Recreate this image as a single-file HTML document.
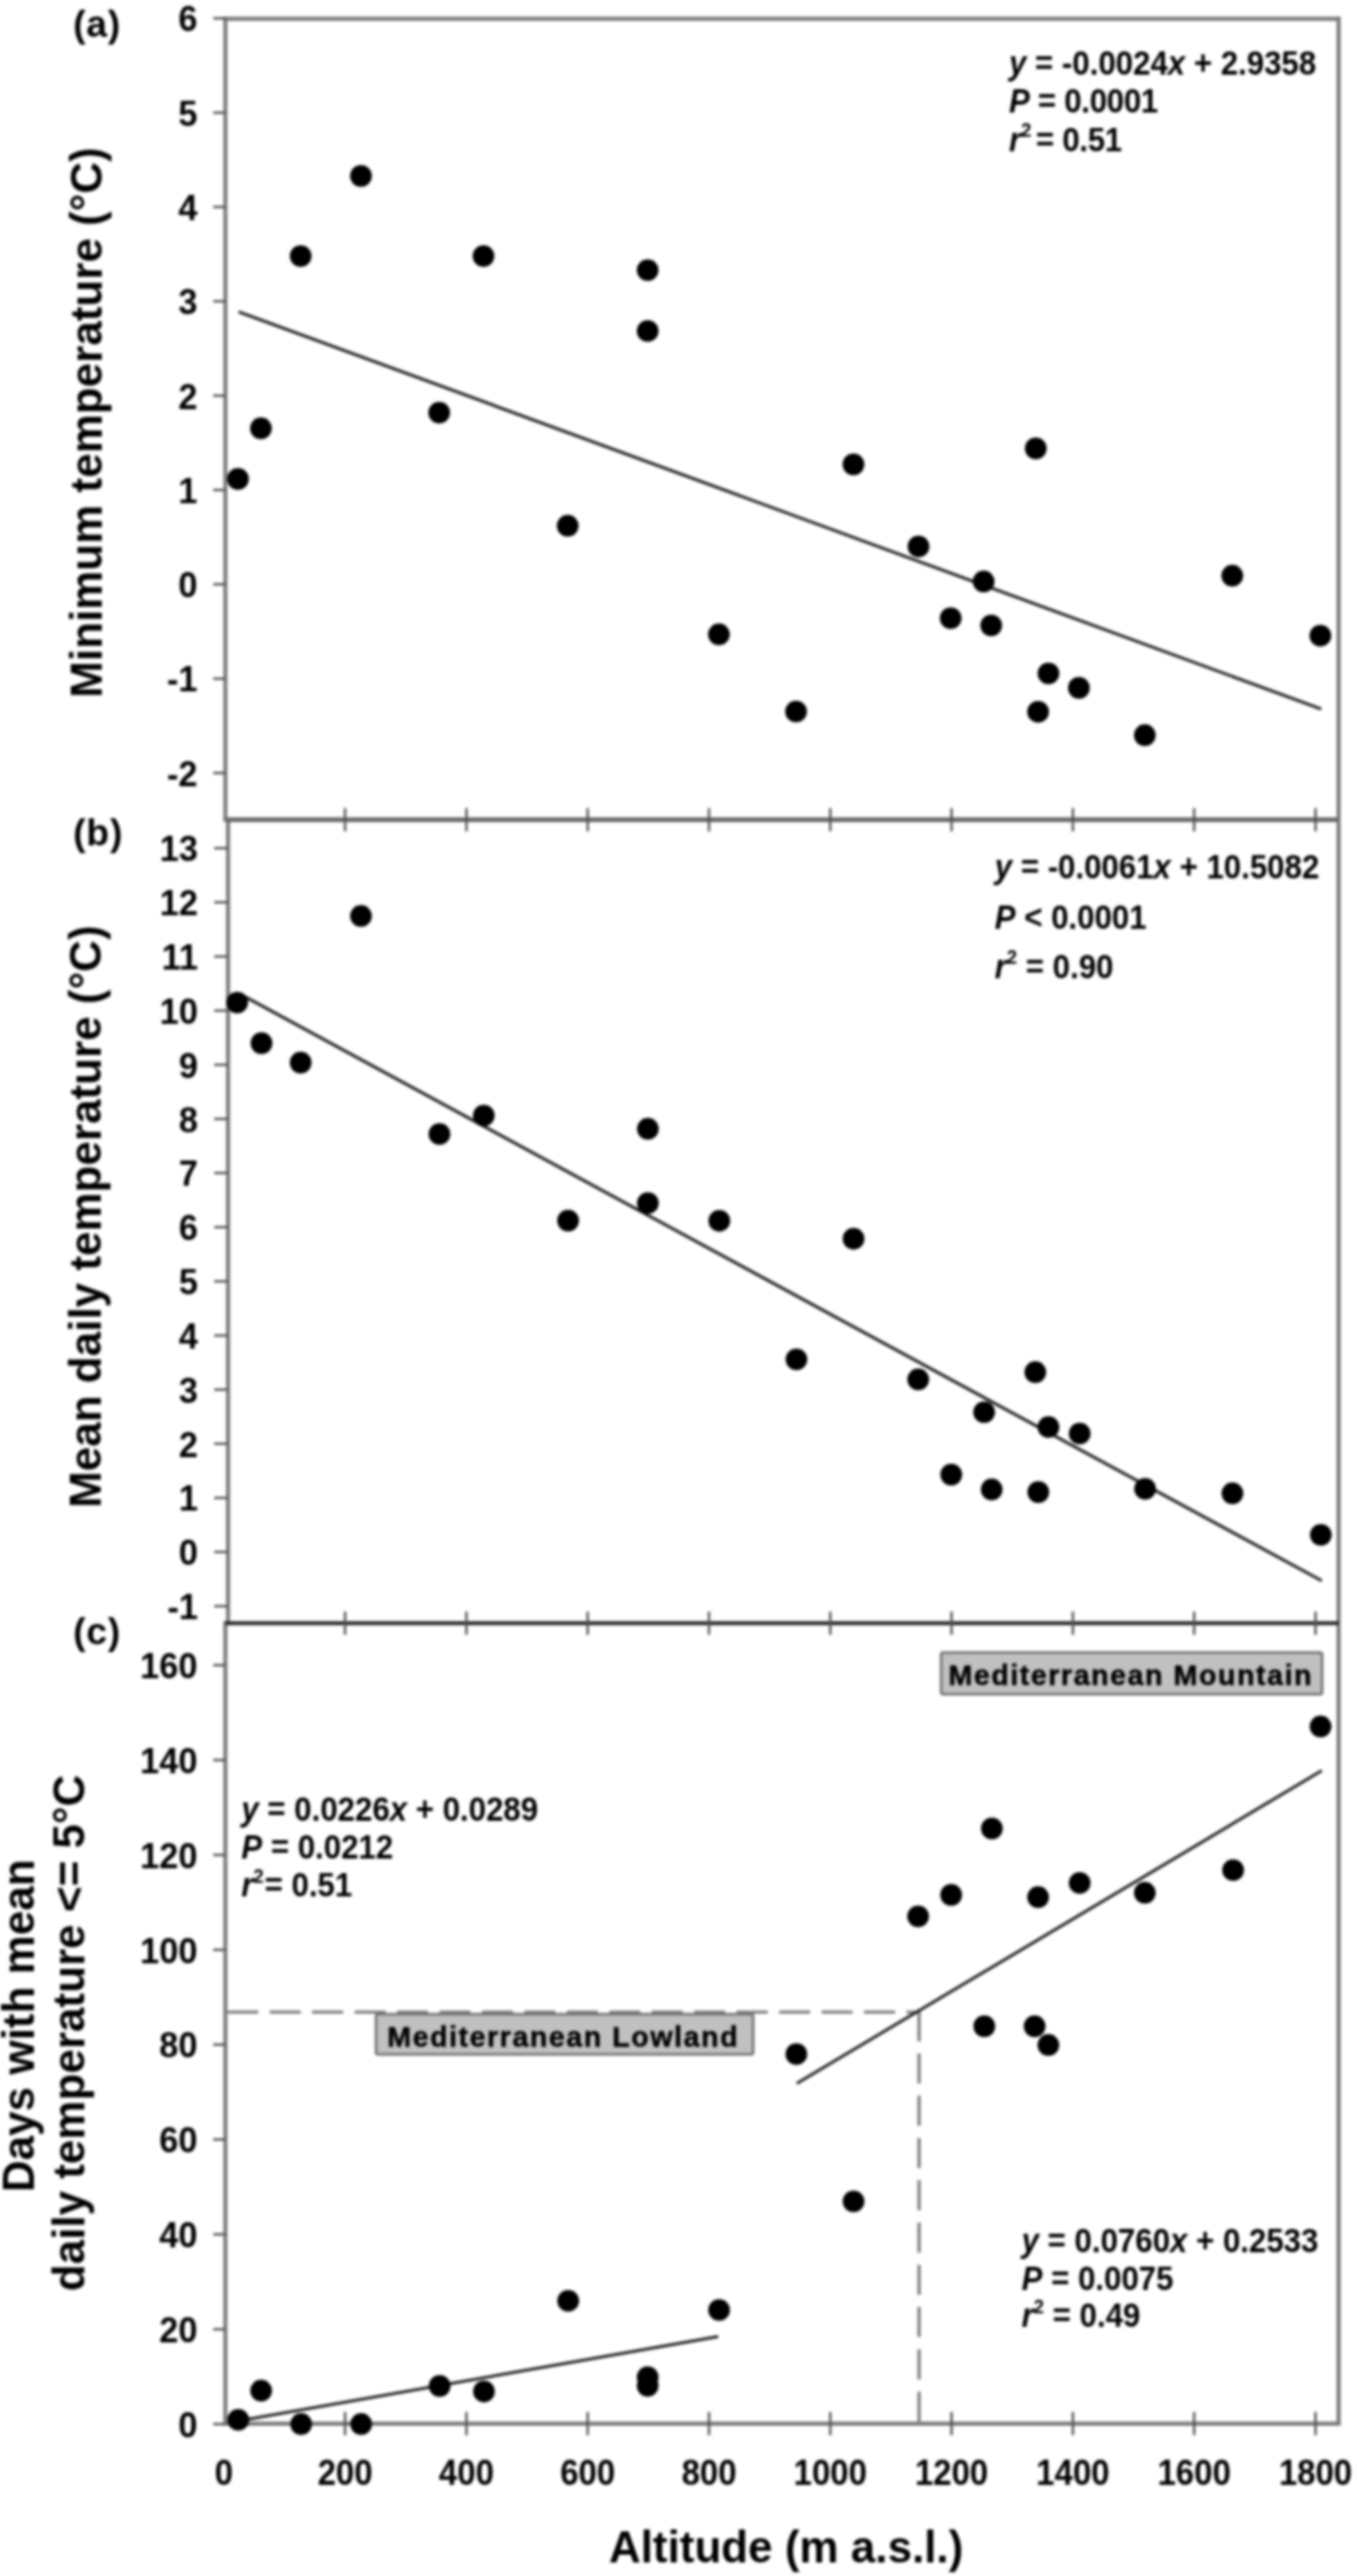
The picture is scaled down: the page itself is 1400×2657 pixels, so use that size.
<!DOCTYPE html>
<html><head><meta charset="utf-8"><title>Temperature vs altitude</title>
<style>html,body{margin:0;padding:0;background:#fff;}svg{display:block;filter:blur(1.5px);}</style>
</head><body>
<svg width="1400" height="2657" viewBox="0 0 1400 2657">
<rect width="1400" height="2657" fill="#fff"/>
<g stroke="#808080" stroke-width="3.4" fill="none">
<line x1="234.4" y1="2075.4" x2="948.2" y2="2075.4" stroke-dasharray="32 11.8"/>
<line x1="948.2" y1="2074.4" x2="948.2" y2="2499.8" stroke-dasharray="31 12.6"/>
</g>
<g stroke="#7a7a7a" stroke-width="4.2" fill="none" stroke-linecap="square">
<line x1="232.5" y1="19.3" x2="1381" y2="19.3"/>
<line x1="1381" y1="19.3" x2="1381" y2="2499.8"/>
<line x1="232.5" y1="19.3" x2="232.5" y2="845.5"/>
<line x1="235.3" y1="845.5" x2="235.3" y2="1674.2"/>
<line x1="232.5" y1="1674.2" x2="232.5" y2="2499.8"/>
<line x1="232.5" y1="2499.8" x2="1381" y2="2499.8"/>
</g>
<line x1="232.5" y1="845.5" x2="1381" y2="845.5" stroke="#6c6c6c" stroke-width="5"/>
<line x1="232.5" y1="1674.2" x2="1381" y2="1674.2" stroke="#262626" stroke-width="4"/>
<g stroke="#505050" stroke-width="2.4">
<line x1="220" y1="797.3" x2="232.5" y2="797.3"/>
<line x1="220" y1="700.0" x2="232.5" y2="700.0"/>
<line x1="220" y1="602.7" x2="232.5" y2="602.7"/>
<line x1="220" y1="505.4" x2="232.5" y2="505.4"/>
<line x1="220" y1="408.1" x2="232.5" y2="408.1"/>
<line x1="220" y1="310.8" x2="232.5" y2="310.8"/>
<line x1="220" y1="213.5" x2="232.5" y2="213.5"/>
<line x1="220" y1="116.2" x2="232.5" y2="116.2"/>
<line x1="220" y1="18.9" x2="232.5" y2="18.9"/>
<line x1="221" y1="1656.7" x2="235" y2="1656.7"/>
<line x1="221" y1="1600.8" x2="235" y2="1600.8"/>
<line x1="221" y1="1545.0" x2="235" y2="1545.0"/>
<line x1="221" y1="1489.1" x2="235" y2="1489.1"/>
<line x1="221" y1="1433.3" x2="235" y2="1433.3"/>
<line x1="221" y1="1377.5" x2="235" y2="1377.5"/>
<line x1="221" y1="1321.6" x2="235" y2="1321.6"/>
<line x1="221" y1="1265.8" x2="235" y2="1265.8"/>
<line x1="221" y1="1209.9" x2="235" y2="1209.9"/>
<line x1="221" y1="1154.1" x2="235" y2="1154.1"/>
<line x1="221" y1="1098.3" x2="235" y2="1098.3"/>
<line x1="221" y1="1042.4" x2="235" y2="1042.4"/>
<line x1="221" y1="986.6" x2="235" y2="986.6"/>
<line x1="221" y1="930.7" x2="235" y2="930.7"/>
<line x1="221" y1="874.9" x2="235" y2="874.9"/>
<line x1="220" y1="2500.3" x2="232.5" y2="2500.3"/>
<line x1="220" y1="2402.5" x2="232.5" y2="2402.5"/>
<line x1="220" y1="2304.6" x2="232.5" y2="2304.6"/>
<line x1="220" y1="2206.8" x2="232.5" y2="2206.8"/>
<line x1="220" y1="2108.9" x2="232.5" y2="2108.9"/>
<line x1="220" y1="2011.1" x2="232.5" y2="2011.1"/>
<line x1="220" y1="1913.2" x2="232.5" y2="1913.2"/>
<line x1="220" y1="1815.4" x2="232.5" y2="1815.4"/>
<line x1="220" y1="1717.5" x2="232.5" y2="1717.5"/>
<line x1="356.0" y1="833.5" x2="356.0" y2="857.5"/>
<line x1="356.0" y1="1662.2" x2="356.0" y2="1686.2"/>
<line x1="356.0" y1="2487.8" x2="356.0" y2="2511.8"/>
<line x1="481.2" y1="833.5" x2="481.2" y2="857.5"/>
<line x1="481.2" y1="1662.2" x2="481.2" y2="1686.2"/>
<line x1="481.2" y1="2487.8" x2="481.2" y2="2511.8"/>
<line x1="606.3" y1="833.5" x2="606.3" y2="857.5"/>
<line x1="606.3" y1="1662.2" x2="606.3" y2="1686.2"/>
<line x1="606.3" y1="2487.8" x2="606.3" y2="2511.8"/>
<line x1="731.5" y1="833.5" x2="731.5" y2="857.5"/>
<line x1="731.5" y1="1662.2" x2="731.5" y2="1686.2"/>
<line x1="731.5" y1="2487.8" x2="731.5" y2="2511.8"/>
<line x1="856.6" y1="833.5" x2="856.6" y2="857.5"/>
<line x1="856.6" y1="1662.2" x2="856.6" y2="1686.2"/>
<line x1="856.6" y1="2487.8" x2="856.6" y2="2511.8"/>
<line x1="981.7" y1="833.5" x2="981.7" y2="857.5"/>
<line x1="981.7" y1="1662.2" x2="981.7" y2="1686.2"/>
<line x1="981.7" y1="2487.8" x2="981.7" y2="2511.8"/>
<line x1="1106.9" y1="833.5" x2="1106.9" y2="857.5"/>
<line x1="1106.9" y1="1662.2" x2="1106.9" y2="1686.2"/>
<line x1="1106.9" y1="2487.8" x2="1106.9" y2="2511.8"/>
<line x1="1232.0" y1="833.5" x2="1232.0" y2="857.5"/>
<line x1="1232.0" y1="1662.2" x2="1232.0" y2="1686.2"/>
<line x1="1232.0" y1="2487.8" x2="1232.0" y2="2511.8"/>
<line x1="1357.2" y1="833.5" x2="1357.2" y2="857.5"/>
<line x1="1357.2" y1="1662.2" x2="1357.2" y2="1686.2"/>
<line x1="1357.2" y1="2487.8" x2="1357.2" y2="2511.8"/>
</g>
<g stroke="#1e1e1e" stroke-width="3">
<line x1="246.2" y1="321.6" x2="1363.2" y2="731.4"/>
<line x1="247.7" y1="1025.3" x2="1363.7" y2="1630.5"/>
<line x1="246" y1="2497" x2="741" y2="2410"/>
<line x1="822" y1="2149" x2="1363.7" y2="1826.3"/>
</g>
<g fill="#000">
<circle cx="245.5" cy="494" r="11.2"/>
<circle cx="269.2" cy="441.8" r="11.2"/>
<circle cx="310.2" cy="264.1" r="11.2"/>
<circle cx="372.4" cy="181.5" r="11.2"/>
<circle cx="453.1" cy="425.6" r="11.2"/>
<circle cx="498.8" cy="264.1" r="11.2"/>
<circle cx="585.7" cy="542.3" r="11.2"/>
<circle cx="668.2" cy="278.6" r="11.2"/>
<circle cx="668.2" cy="341.4" r="11.2"/>
<circle cx="741.7" cy="654.3" r="11.2"/>
<circle cx="821.3" cy="733.9" r="11.2"/>
<circle cx="880.5" cy="479" r="11.2"/>
<circle cx="947.6" cy="563.7" r="11.2"/>
<circle cx="980.8" cy="637.6" r="11.2"/>
<circle cx="1014.8" cy="599.8" r="11.2"/>
<circle cx="1022.6" cy="645.1" r="11.2"/>
<circle cx="1068.6" cy="462.5" r="11.2"/>
<circle cx="1071" cy="734.2" r="11.2"/>
<circle cx="1081.7" cy="694.6" r="11.2"/>
<circle cx="1113.1" cy="709.5" r="11.2"/>
<circle cx="1181.1" cy="758.3" r="11.2"/>
<circle cx="1271.3" cy="593.8" r="11.2"/>
<circle cx="1362.2" cy="655.7" r="11.2"/>
<circle cx="244.7" cy="1034.1" r="11.2"/>
<circle cx="269.8" cy="1076" r="11.2"/>
<circle cx="310.2" cy="1096" r="11.2"/>
<circle cx="372.4" cy="944.8" r="11.2"/>
<circle cx="453.4" cy="1169.7" r="11.2"/>
<circle cx="499.1" cy="1150.6" r="11.2"/>
<circle cx="586.1" cy="1259" r="11.2"/>
<circle cx="668.4" cy="1164.3" r="11.2"/>
<circle cx="668.4" cy="1240.9" r="11.2"/>
<circle cx="742.1" cy="1259.2" r="11.2"/>
<circle cx="821.7" cy="1402.1" r="11.2"/>
<circle cx="880.6" cy="1277.7" r="11.2"/>
<circle cx="947.3" cy="1422.8" r="11.2"/>
<circle cx="981.4" cy="1521" r="11.2"/>
<circle cx="1015.3" cy="1456.6" r="11.2"/>
<circle cx="1023.1" cy="1536.3" r="11.2"/>
<circle cx="1068.1" cy="1415.3" r="11.2"/>
<circle cx="1071.2" cy="1539" r="11.2"/>
<circle cx="1081.7" cy="1471.9" r="11.2"/>
<circle cx="1113.9" cy="1478.6" r="11.2"/>
<circle cx="1181.4" cy="1535.6" r="11.2"/>
<circle cx="1271.5" cy="1540.3" r="11.2"/>
<circle cx="1362.7" cy="1583.1" r="11.2"/>
<circle cx="245.8" cy="2495.9" r="11.2"/>
<circle cx="269.4" cy="2465.8" r="11.2"/>
<circle cx="310.7" cy="2500.3" r="11.2"/>
<circle cx="372.6" cy="2500.3" r="11.2"/>
<circle cx="453.6" cy="2461" r="11.2"/>
<circle cx="499.3" cy="2466.7" r="11.2"/>
<circle cx="586.2" cy="2373.2" r="11.2"/>
<circle cx="668.2" cy="2451.9" r="11.2"/>
<circle cx="668.2" cy="2460.8" r="11.2"/>
<circle cx="741.9" cy="2382.6" r="11.2"/>
<circle cx="821.6" cy="2118.7" r="11.2"/>
<circle cx="880.6" cy="2270.6" r="11.2"/>
<circle cx="947.2" cy="1976.6" r="11.2"/>
<circle cx="981.3" cy="1954.5" r="11.2"/>
<circle cx="1015.5" cy="2090" r="11.2"/>
<circle cx="1023.3" cy="1886" r="11.2"/>
<circle cx="1067.4" cy="2090" r="11.2"/>
<circle cx="1071" cy="1956.8" r="11.2"/>
<circle cx="1081.6" cy="2109.3" r="11.2"/>
<circle cx="1113.9" cy="1942.2" r="11.2"/>
<circle cx="1181.1" cy="1952.3" r="11.2"/>
<circle cx="1272.2" cy="1928.9" r="11.2"/>
<circle cx="1362.4" cy="1780.8" r="11.2"/>
</g>
<g fill="#c0c0c0" stroke="#6e6e6e" stroke-width="2.6">
<rect x="971" y="1704.5" width="393" height="43" rx="2"/>
<rect x="388" y="2077.5" width="389" height="41.5" rx="2"/>
</g>
<g font-family="'Liberation Sans', sans-serif" font-weight="bold" fill="#000">
<g font-size="35.5" text-anchor="end">
<text transform="translate(203.7,810.7) scale(1,1.055)">-2</text>
<text transform="translate(203.7,713.4) scale(1,1.055)">-1</text>
<text transform="translate(203.7,616.1) scale(1,1.055)">0</text>
<text transform="translate(203.7,518.8) scale(1,1.055)">1</text>
<text transform="translate(203.7,421.5) scale(1,1.055)">2</text>
<text transform="translate(203.7,324.2) scale(1,1.055)">3</text>
<text transform="translate(203.7,226.9) scale(1,1.055)">4</text>
<text transform="translate(203.7,129.6) scale(1,1.055)">5</text>
<text transform="translate(203.7,32.3) scale(1,1.055)">6</text>
<text transform="translate(204.2,1670.1) scale(1,1.055)">-1</text>
<text transform="translate(204.2,1614.2) scale(1,1.055)">0</text>
<text transform="translate(204.2,1558.4) scale(1,1.055)">1</text>
<text transform="translate(204.2,1502.5) scale(1,1.055)">2</text>
<text transform="translate(204.2,1446.7) scale(1,1.055)">3</text>
<text transform="translate(204.2,1390.9) scale(1,1.055)">4</text>
<text transform="translate(204.2,1335.0) scale(1,1.055)">5</text>
<text transform="translate(204.2,1279.2) scale(1,1.055)">6</text>
<text transform="translate(204.2,1223.3) scale(1,1.055)">7</text>
<text transform="translate(204.2,1167.5) scale(1,1.055)">8</text>
<text transform="translate(204.2,1111.7) scale(1,1.055)">9</text>
<text transform="translate(204.2,1055.8) scale(1,1.055)">10</text>
<text transform="translate(204.2,1000.0) scale(1,1.055)">11</text>
<text transform="translate(204.2,944.1) scale(1,1.055)">12</text>
<text transform="translate(204.2,888.3) scale(1,1.055)">13</text>
<text transform="translate(203.7,2513.7) scale(1,1.055)">0</text>
<text transform="translate(203.7,2415.9) scale(1,1.055)">20</text>
<text transform="translate(203.7,2318.0) scale(1,1.055)">40</text>
<text transform="translate(203.7,2220.2) scale(1,1.055)">60</text>
<text transform="translate(203.7,2122.3) scale(1,1.055)">80</text>
<text transform="translate(203.7,2024.5) scale(1,1.055)">100</text>
<text transform="translate(203.7,1926.6) scale(1,1.055)">120</text>
<text transform="translate(203.7,1828.8) scale(1,1.055)">140</text>
<text transform="translate(203.7,1730.9) scale(1,1.055)">160</text>
</g>
<g font-size="34" text-anchor="middle">
<text transform="translate(230.9,2562.6) scale(1,1.07)">0</text>
<text transform="translate(356.0,2562.6) scale(1,1.07)">200</text>
<text transform="translate(481.2,2562.6) scale(1,1.07)">400</text>
<text transform="translate(606.3,2562.6) scale(1,1.07)">600</text>
<text transform="translate(731.5,2562.6) scale(1,1.07)">800</text>
<text transform="translate(856.6,2562.6) scale(1,1.07)">1000</text>
<text transform="translate(981.7,2562.6) scale(1,1.07)">1200</text>
<text transform="translate(1106.9,2562.6) scale(1,1.07)">1400</text>
<text transform="translate(1232.0,2562.6) scale(1,1.07)">1600</text>
<text transform="translate(1357.2,2562.6) scale(1,1.07)">1800</text>
</g>
<g font-size="38.5" letter-spacing="0.8">
<text x="75.5" y="38.2">(a)</text>
<text x="75.5" y="871.8">(b)</text>
<text x="75.5" y="1695.7">(c)</text>
</g>
<g font-size="45.4" text-anchor="middle">
<text transform="translate(104.5,435.8) rotate(-90)">Minimum temperature (°C)</text>
<text transform="translate(103.5,1254.9) rotate(-90)">Mean daily temperature (°C)</text>
<text transform="translate(34.5,2089.4) rotate(-90)">Days with mean</text>
<text transform="translate(87.4,2096.9) rotate(-90)">daily temperature &lt;= 5°C</text>
<text x="811" y="2642.6">Altitude (m a.s.l.)</text>
</g>
<g font-size="29.5" letter-spacing="1.6" stroke="#000" stroke-width="0.5">
<text x="978.5" y="1737.6">Mediterranean Mountain</text>
<text x="399.5" y="2111.3">Mediterranean Lowland</text>
</g>
<g font-size="32.2"><text transform="translate(1041,77.1) scale(1,1.09)"><tspan font-style="italic">y</tspan> = -0.0024<tspan font-style="italic">x</tspan> + 2.9358</text><text transform="translate(1041,116.3) scale(1,1.09)"><tspan letter-spacing="-0.3"><tspan font-style="italic">P</tspan> = 0.0001</tspan></text><text transform="translate(1041,155.5) scale(1,1.09)"><tspan font-style="italic">r</tspan><tspan font-size="19" dy="-13">2</tspan><tspan dy="13" dx="-4" letter-spacing="-0.3"> = 0.51</tspan></text></g>
<g font-size="32.2"><text transform="translate(1026.3,906.4) scale(1,1.09)"><tspan font-style="italic">y</tspan> = -0.0061<tspan font-style="italic">x</tspan> + 10.5082</text><text transform="translate(1026.3,957.5) scale(1,1.09)"><tspan font-style="italic">P</tspan> &lt; 0.0001</text><text transform="translate(1026.3,1008.6) scale(1,1.09)"><tspan font-style="italic">r</tspan><tspan font-size="19" dy="-13">2</tspan><tspan dy="13"> = 0.90</tspan></text></g>
<g font-size="32.2"><text transform="translate(249,1877.7) scale(1,1.09)"><tspan font-style="italic">y</tspan> = 0.0226<tspan font-style="italic">x</tspan> + 0.0289</text><text transform="translate(249,1916.8) scale(1,1.09)"><tspan font-style="italic">P</tspan> = 0.0212</text><text transform="translate(249,1955.9) scale(1,1.09)"><tspan font-style="italic">r</tspan><tspan font-size="19" dy="-13">2</tspan><tspan dy="13" dx="-8"> = 0.51</tspan></text></g>
<g font-size="32.2"><text transform="translate(1054,2322.9) scale(1,1.09)"><tspan font-style="italic">y</tspan> = 0.0760<tspan font-style="italic">x</tspan> + 0.2533</text><text transform="translate(1054,2361.6) scale(1,1.09)"><tspan font-style="italic">P</tspan> = 0.0075</text><text transform="translate(1054,2400.3) scale(1,1.09)"><tspan font-style="italic">r</tspan><tspan font-size="19" dy="-13">2</tspan><tspan dy="13"> = 0.49</tspan></text></g>
</g>
</svg>
</body></html>
